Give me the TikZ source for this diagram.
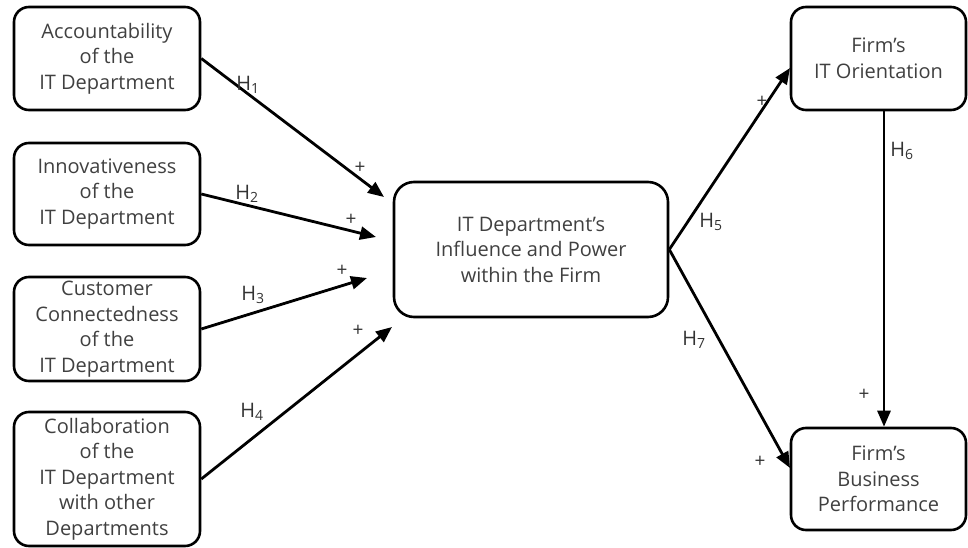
\documentclass[tikz,border=0pt]{standalone}
\usepackage{fontspec}
\setmainfont{Open Sans}
\usetikzlibrary{arrows.meta}

\tikzset{
  box/.style={draw, line width=2.6pt, rounded corners=15pt, align=center,
    text=black!75, font=\fontsize{20}{25.5}\selectfont, inner sep=0pt},
  hyp/.style={line width=2.8pt, -{Triangle[length=16pt,width=13pt]}},
  hlab/.style={text=black!80, font=\fontsize{20}{22}\selectfont},
  sign/.style={text=black!80, font=\fontsize{19}{20}\selectfont},
}

\begin{document}
\begin{tikzpicture}[x=1pt, y=-1pt]

\useasboundingbox (0,0) rectangle (968,548);

% Antecedentes (columna izquierda)
\node[box, minimum width=186pt, minimum height=103pt] (acc) at (107,58.5)
  {Accountability\\of the\\IT Department};
\node[box, minimum width=186pt, minimum height=102pt] (inn) at (107,194)
  {Innovativeness\\of the\\IT Department};
\node[box, minimum width=186pt, minimum height=104pt] (cus) at (107,329)
  {Customer\\Connectedness\\of the\\IT Department};
\node[box, minimum width=186pt, minimum height=134pt] (col) at (107,479)
  {Collaboration\\of the\\IT Department\\with other\\Departments};

% Constructo central
\node[box, rounded corners=20pt, minimum width=274pt, minimum height=135pt] (pow) at (531,249.5)
  {IT Department's\\Influence and Power\\within the Firm};

% Consecuencias (columna derecha)
\node[box, minimum width=175pt, minimum height=103pt] (ori) at (878.5,58.5)
  {Firm's\\IT Orientation};
\node[box, minimum width=175pt, minimum height=102pt] (per) at (878.5,479)
  {Firm's\\Business\\Performance};

% Puntas de las flechas
\coordinate (t1) at (384,197);
\coordinate (t2) at (376,237);
\coordinate (t3) at (367,278);
\coordinate (t4) at (392,327);
\coordinate (t5) at (790,68);
\coordinate (t7) at (790,468);

% Hipótesis
\draw[hyp] (acc.east) -- (t1);
\draw[hyp] (inn.east) -- (t2);
\draw[hyp] (cus.east) -- (t3);
\draw[hyp] (col.east) -- (t4);
\draw[hyp] (pow.east) -- (t5);
\draw[hyp] (pow.east) -- (t7);
\draw[hyp] (ori.south -| 884,0) -- (per.north -| 884,0);

% Etiquetas H
\node[hlab] (h1) at (248,85) {H\textsubscript{1}};
\node[hlab] (h2) at (247,194) {H\textsubscript{2}};
\node[hlab] (h3) at (253,295) {H\textsubscript{3}};
\node[hlab] (h4) at (252,412) {H\textsubscript{4}};
\node[hlab] (h5) at (711,222) {H\textsubscript{5}};
\node[hlab] (h6) at (902,151) {H\textsubscript{6}};
\node[hlab] (h7) at (694,340) {H\textsubscript{7}};

% Signos
\node[sign] (s1) at (360,168) {+};
\node[sign] (s2) at (351,220) {+};
\node[sign] (s3) at (342,271) {+};
\node[sign] (s4) at (358,331) {+};
\node[sign] (s5) at (762,102) {+};
\node[sign] (s6) at (864,395) {+};
\node[sign] (s7) at (760,462) {+};

\end{tikzpicture}
\end{document}
